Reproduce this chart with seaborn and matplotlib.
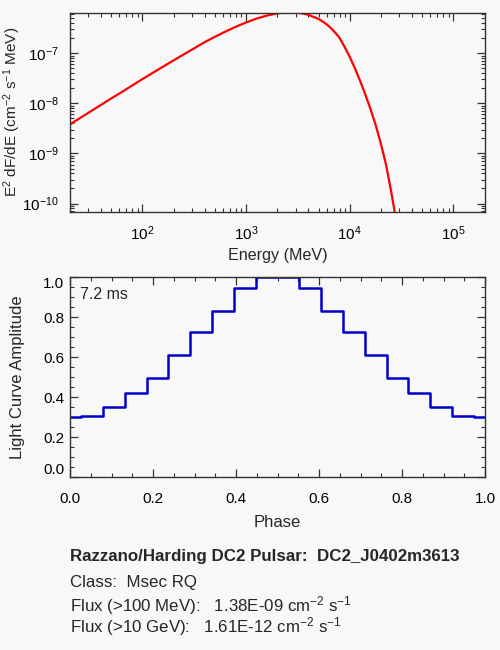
import numpy as np
import pandas as pd
import matplotlib
matplotlib.use("Agg")
import matplotlib.pyplot as plt
import seaborn as sns

# spectrum, as log10(E / MeV) and log10(E^2 dF/dE)
log_energy = [1.301, 1.4, 1.5, 1.6, 1.7, 1.8, 1.9, 2.0, 2.1, 2.2, 2.3, 2.4,
              2.5, 2.6, 2.7, 2.8, 2.9, 3.0, 3.1, 3.2, 3.3, 3.4, 3.45, 3.5,
              3.6, 3.7, 3.75, 3.8, 3.85, 3.9, 3.95, 4.0, 4.05, 4.1, 4.15,
              4.2, 4.25, 4.3, 4.35, 4.4, 4.43, 4.46]
log_e2_flux = [-8.42, -8.29, -8.16, -8.03, -7.90, -7.775, -7.645, -7.515,
               -7.39, -7.265, -7.142, -7.02, -6.9, -6.778, -6.669, -6.567,
               -6.471, -6.384, -6.308, -6.247, -6.203, -6.181, -6.178, -6.186,
               -6.23, -6.316, -6.38, -6.46, -6.565, -6.685, -6.87, -7.07,
               -7.30, -7.55, -7.82, -8.11, -8.43, -8.80, -9.22, -9.76, -10.12,
               -10.5]

# light curve, 20 phase bins
phase = [0.0, 0.053, 0.105, 0.158, 0.211, 0.263, 0.316, 0.368, 0.421, 0.474,
         0.526, 0.579, 0.632, 0.684, 0.737, 0.789, 0.842, 0.895, 0.947, 1.0]
amplitude = [0.30, 0.305, 0.35, 0.42, 0.495, 0.61, 0.725, 0.83, 0.945, 1.0,
             1.0, 0.945, 0.83, 0.725, 0.61, 0.495, 0.42, 0.35, 0.305, 0.30]

period_label = "7.2 ms"
info_lines = [
    "Razzano/Harding DC2 Pulsar:  DC2_J0402m3613",
    "Class:  Msec RQ",
    "Flux (>100 MeV):   1.38E-09 cm$^{-2}$ s$^{-1}$",
    "Flux (>10 GeV):   1.61E-12 cm$^{-2}$ s$^{-1}$",
]

sns.set_theme(style="ticks")
bg = "#f8f8f8"
plt.rcParams["font.family"] = ["Liberation Sans", "DejaVu Sans"]
plt.rcParams["mathtext.fontset"] = "custom"
plt.rcParams["mathtext.rm"] = "Liberation Sans"
plt.rcParams["mathtext.it"] = "Liberation Sans:italic"
plt.rcParams["mathtext.bf"] = "Liberation Sans:bold"
plt.rcParams["axes.facecolor"] = bg
plt.rcParams["figure.facecolor"] = bg

fig = plt.figure(figsize=(5, 6.5), dpi=100)
ax1 = fig.add_axes([0.14, 0.674, 0.83, 0.3066])
ax2 = fig.add_axes([0.14, 0.266, 0.83, 0.3077])

spec = pd.DataFrame({"E": np.power(10.0, log_energy),
                     "F": np.power(10.0, log_e2_flux)})
sns.lineplot(data=spec, x="E", y="F", ax=ax1, color="#ff0000", lw=1.6, sort=False)
ax1.set_xscale("log")
ax1.set_yscale("log")
ax1.set_xlim(20, 2.02e5)
ax1.set_ylim(6.8e-11, 6.49e-7)
ax1.set_xlabel("Energy (MeV)", fontsize=11.6)
ax1.set_ylabel("E$^2$ dF/dE (cm$^{-2}$ s$^{-1}$ MeV)", fontsize=11)
ax1.xaxis.set_label_coords(0.5, -0.18)
ax1.yaxis.set_label_coords(-0.113, 0.5)

lc = pd.DataFrame({"phase": phase, "amp": amplitude})
sns.lineplot(data=lc, x="phase", y="amp", ax=ax2, color="#0000cc", lw=1.8,
             drawstyle="steps-mid")
ax2.set_xlim(0, 1)
ax2.set_ylim(0, 1.0)
ax2.set_xticks(np.arange(0, 1.01, 0.2))
ax2.set_yticks(np.arange(0, 1.01, 0.2))
ax2.set_xticks(np.arange(0, 1.01, 0.05), minor=True)
ax2.set_yticks(np.arange(0, 1.01, 0.05), minor=True)
ax2.xaxis.set_major_formatter(matplotlib.ticker.FormatStrFormatter("%.1f"))
ax2.yaxis.set_major_formatter(matplotlib.ticker.FormatStrFormatter("%.1f"))
ax2.set_xlabel("Phase", fontsize=12)
ax2.set_ylabel("Light Curve Amplitude", fontsize=12)
ax2.xaxis.set_label_coords(0.5, -0.19)
ax2.yaxis.set_label_coords(-0.108, 0.5)
ax2.text(0.024, 0.915, period_label, transform=ax2.transAxes, fontsize=11.5,
         va="center", ha="left")

for ax in (ax1, ax2):
    for s in ax.spines.values():
        s.set_color("#333333")
        s.set_linewidth(1.0)
    ax.tick_params(which="both", direction="in", top=True, right=True,
                   colors="#333333", labelcolor="black", labelsize=11)
    ax.tick_params(which="major", length=6, width=0.9)
    ax.tick_params(which="minor", length=3, width=0.8)
ax1.tick_params(axis="x", which="major", pad=9)
ax1.tick_params(axis="y", which="major", pad=8)
ax2.tick_params(axis="x", which="major", pad=11)
ax2.tick_params(axis="y", which="major", pad=4)

ylabs = ax2.get_yticklabels()
ylabs[0].set_va("bottom")
ylabs[-1].set_va("top")

ys = [557, 583, 606, 627]
for i, (line, y) in enumerate(zip(info_lines, ys)):
    fig.text(70 / 500, 1 - y / 650, line, fontsize=12.2, va="center", ha="left",
             fontweight="bold" if i == 0 else "normal")

fig.savefig("out.png", dpi=100, facecolor=bg)
